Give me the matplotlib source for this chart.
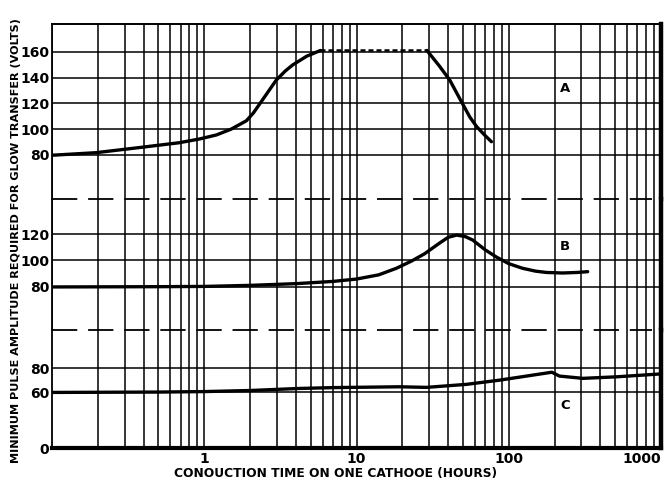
import numpy as np
import matplotlib
matplotlib.use("Agg")
import matplotlib.pyplot as plt
from matplotlib.ticker import LogLocator, NullFormatter, FixedLocator

# ---------------- data ----------------
# Curve A : rising part, flat (dashed) plateau, falling part
a_rise_x = [0.1, 0.195, 0.39, 0.685, 0.93, 1.2, 1.5, 1.89, 2.1, 2.41, 2.7, 2.97, 3.4, 3.8, 4.7, 5.8]
a_rise_y = [79.8, 81.8, 86.0, 89.5, 92.4, 95.5, 100.0, 106.5, 112.5, 122.6, 131.0, 138.0, 145.0, 149.7, 156.5, 161.0]
a_flat_x = [5.8, 29.0]
a_flat_y = [161.0, 161.0]
a_fall_x = [29.0, 35.0, 41.0, 47.5, 55.5, 61.5, 70.0, 77.0]
a_fall_y = [161.0, 149.0, 138.0, 124.0, 109.4, 102.0, 95.0, 90.3]

# Curve B
b_x = [0.1, 0.5, 1.0, 2.0, 4.0, 7.0, 10.0, 14.0, 18.3, 23.0, 28.0, 35.0, 40.0, 45.5, 52.0, 58.0,
       70.0, 83.0, 100.0, 123.0, 150.0, 177.0, 226.0, 280.0, 330.0]
b_y = [79.8, 80.0, 80.2, 81.0, 82.3, 84.0, 85.8, 89.0, 94.0, 99.5, 105.0, 113.0, 117.5, 119.2, 118.0,
       115.4, 108.0, 102.5, 97.5, 94.0, 91.8, 90.8, 90.4, 90.8, 91.4]

# Curve C
c_x = [0.1, 0.5, 1.0, 2.0, 4.2, 7.0, 19.2, 28.8, 52.7, 87.0, 144.0, 192.0, 215.0, 307.0, 514.0, 1000.0]
c_y = [60.0, 60.3, 60.7, 61.6, 63.3, 64.0, 64.7, 64.2, 66.7, 70.2, 74.4, 76.8, 73.6, 71.7, 73.0, 75.4]

a_ticks = [80, 100, 120, 140, 160]
b_ticks = [80, 100, 120]
c_ticks = [0, 60, 80]
x_ticks = [1, 10, 100, 1000]
x_ticklabels = ["1", "10", "100", "1000"]
panel_labels = ["A", "B", "C"]

ylabel = "MINIMUM PULSE AMPLITUDE REQUIRED FOR GLOW TRANSFER (VOLTS)"
xlabel = "CONOUCTION TIME ON ONE CATHOOE (HOURS)"

# ---------------- figure ----------------
W, H = 671, 479
fig = plt.figure(figsize=(W / 100, H / 100), dpi=100)
fig.patch.set_facecolor("white")

L, R = 52 / W, 661 / W
def fy(p):
    return 1 - p / H

axA = fig.add_axes([L, fy(199), R - L, fy(24) - fy(199)])
axB = fig.add_axes([L, fy(330), R - L, fy(199) - fy(330)])
axC = fig.add_axes([L, fy(448), R - L, fy(330) - fy(448)])

# broken scale for panel C (0..60 compressed)
k = 0.77
def fwd(y):
    y = np.asarray(y, dtype=float)
    return np.where(y >= 60, y, 60 - (60 - y) * k)
def inv(v):
    v = np.asarray(v, dtype=float)
    return np.where(v >= 60, v, 60 - (60 - v) / k)
axC.set_yscale("function", functions=(fwd, inv))

axA.set_ylim(45.9, 181.5)
axB.set_ylim(47.1, 146.6)
axC.set_ylim(0, 111.9)

narrow = ["Liberation Sans Narrow", "DejaVu Sans"]
tfont = dict(fontsize=10, fontweight="bold", color="black", family=narrow)

for ax, ticks in ((axA, a_ticks), (axB, b_ticks), (axC, c_ticks)):
    ax.set_xscale("log")
    ax.set_xlim(0.1, 1000)
    ax.set_axisbelow(True)
    ax.xaxis.set_major_locator(FixedLocator([0.1, 1, 10, 100, 1000]))
    ax.xaxis.set_minor_locator(LogLocator(base=10, subs=np.arange(2, 10), numticks=20))
    ax.xaxis.set_minor_formatter(NullFormatter())
    ax.grid(which="both", axis="x", color="black", lw=1.1)
    ax.set_yticks(ticks)
    ax.set_yticklabels([str(t) for t in ticks], **tfont)
    ax.yaxis.set_minor_locator(FixedLocator([]))
    ax.grid(which="major", axis="y", color="black", lw=1.1)
    ax.tick_params(axis="both", which="both", length=0)
    ax.tick_params(axis="y", pad=2)
    for s in ax.spines.values():
        s.set_color("black")
    ax.spines["left"].set_linewidth(1.3)
    ax.spines["right"].set_linewidth(3.2)
    ax.spines["top"].set_visible(False)
    ax.spines["bottom"].set_visible(False)
    ax.set_facecolor("white")

axA.spines["top"].set_visible(True)
axA.spines["top"].set_linewidth(1.4)
axC.spines["bottom"].set_visible(True)
axC.spines["bottom"].set_linewidth(3.0)

axA.set_xticklabels([])
axB.set_xticklabels([])
axC.set_xticks(x_ticks)
axC.set_xticklabels(x_ticklabels, fontsize=10, fontweight="bold", family=narrow)
axC.tick_params(axis="x", pad=3)
lbls = axC.get_xticklabels()
lbls[-1].set_horizontalalignment("right")

lw = 2.4
axA.plot(a_rise_x, a_rise_y, color="black", lw=lw, solid_capstyle="round", solid_joinstyle="round", zorder=3)
axA.plot(a_flat_x, a_flat_y, color="black", lw=1.8, ls=(0, (2.0, 1.2)), zorder=3)
axA.plot(a_fall_x, a_fall_y, color="black", lw=lw, solid_capstyle="round", solid_joinstyle="round", zorder=3)
axB.plot(b_x, b_y, color="black", lw=lw, solid_capstyle="round", solid_joinstyle="round", zorder=3)
axC.plot(c_x, c_y, color="black", lw=lw, solid_capstyle="round", solid_joinstyle="round", zorder=3)

# dashed separators between panels
for ax in (axB, axC):
    ax.plot([0.0, 0.985], [1.0, 1.0], transform=ax.transAxes, color="black",
            lw=1.3, ls=(0, (14, 6)), clip_on=False, zorder=4)

# panel letters
lfont = dict(fontsize=9.5, fontweight="bold", color="black", ha="center", va="center")
axA.text(234, 131.9, panel_labels[0], **lfont)
axB.text(234, 110.9, panel_labels[1], **lfont)
axC.text(234, 46.2, panel_labels[2], **lfont)

fig.text(16 / W, fy(241), ylabel, rotation=90, ha="center", va="center",
         fontsize=8.1, fontweight="bold", color="black")
fig.text(335 / W, fy(473), xlabel, ha="center", va="center",
         fontsize=8.8, fontweight="bold", color="black")

fig.savefig("out.png", dpi=100, facecolor="white")
